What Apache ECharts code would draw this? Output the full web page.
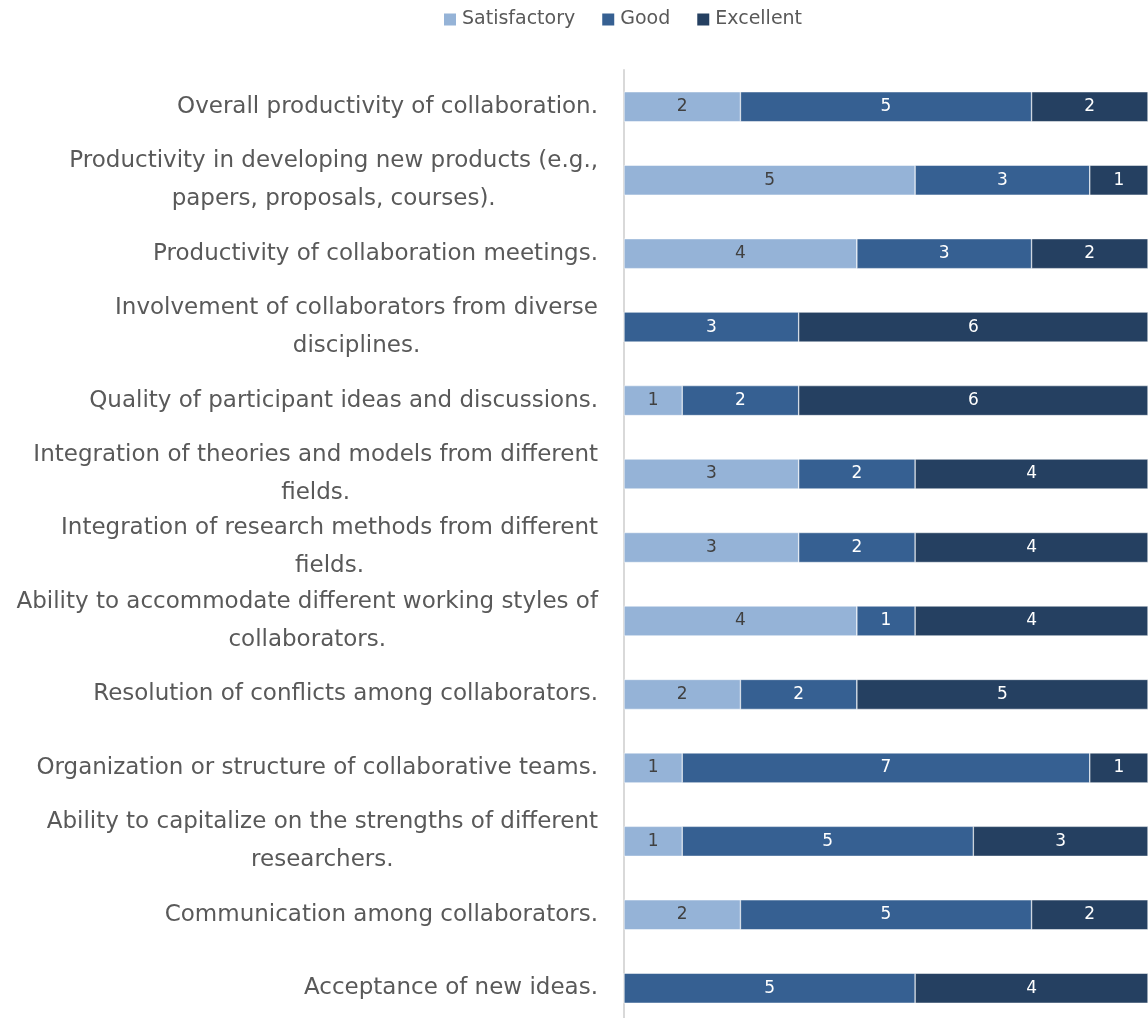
<!DOCTYPE html>
<html>
<head>
<meta charset="utf-8">
<script src="https://cdn.jsdelivr.net/npm/echarts@6/dist/echarts.min.js"></script>
<style>
  html, body { margin: 0; padding: 0; background: #fff; overflow: hidden; }
  #chart { width: 1148px; height: 1026px; }
</style>
</head>
<body>
<div id="chart"></div>
<script>
// categories, top to bottom (\n marks where the label wraps)
var categories = [
  'Overall productivity of collaboration.',
  'Productivity in developing new products (e.g.,\npapers, proposals, courses).',
  'Productivity of collaboration meetings.',
  'Involvement of collaborators from diverse\ndisciplines.',
  'Quality of participant ideas and discussions.',
  'Integration of theories and models from different\nfields.',
  'Integration of research methods from different\nfields.',
  'Ability to accommodate different working styles of\ncollaborators.',
  'Resolution of conflicts among collaborators.',
  'Organization or structure of collaborative teams.',
  'Ability to capitalize on the strengths of different\nresearchers.',
  'Communication among collaborators.',
  'Acceptance of new ideas.'
];
var satisfactory = [2, 5, 4, 0, 1, 3, 3, 4, 2, 1, 1, 2, 0];
var good         = [5, 3, 3, 3, 2, 2, 2, 1, 2, 7, 5, 5, 5];
var excellent    = [2, 1, 2, 6, 6, 4, 4, 4, 5, 1, 3, 2, 4];

var font = "'DejaVu Sans', sans-serif";

function bar(name, data, color, labelColor) {
  return {
    name: name,
    type: 'bar',
    stack: 'total',
    barWidth: 30,
    data: data,
    itemStyle: { color: color, borderColor: '#ffffff', borderWidth: 0.5 },
    label: {
      show: true,
      position: 'inside',
      color: labelColor,
      fontFamily: font,
      fontSize: 17,
      formatter: function (p) { return p.value ? p.value : ''; }
    }
  };
}

var myChart = echarts.init(document.getElementById('chart'));
myChart.setOption({
  animation: false,
  legend: {
    top: 5,
    left: 437,
    itemWidth: 14,
    itemHeight: 14,
    itemGap: 25,
    icon: 'rect',
    textStyle: { color: '#595959', fontFamily: font, fontSize: 19 },
    data: ['Satisfactory', 'Good', 'Excellent']
  },
  grid: { left: 624, right: 0, top: 70, height: 955 },
  xAxis: {
    type: 'value',
    min: 0,
    max: 9,
    show: false
  },
  yAxis: {
    type: 'category',
    inverse: true,
    data: categories,
    axisLine: { show: true, lineStyle: { color: '#d9d9d9', width: 2 } },
    axisTick: { show: false },
    axisLabel: {
      margin: 26,
      formatter: function (v) {
        return v.split('\n').map(function (l) { return '{c|' + l + '}'; }).join('\n');
      },
      rich: {
        c: { align: 'center', color: '#595959', fontFamily: font, fontSize: 23, lineHeight: 38 }
      }
    }
  },
  series: [
    bar('Satisfactory', satisfactory, '#95b3d7', '#404040'),
    bar('Good', good, '#366092', '#ffffff'),
    bar('Excellent', excellent, '#254061', '#ffffff')
  ]
});
</script>
</body>
</html>
